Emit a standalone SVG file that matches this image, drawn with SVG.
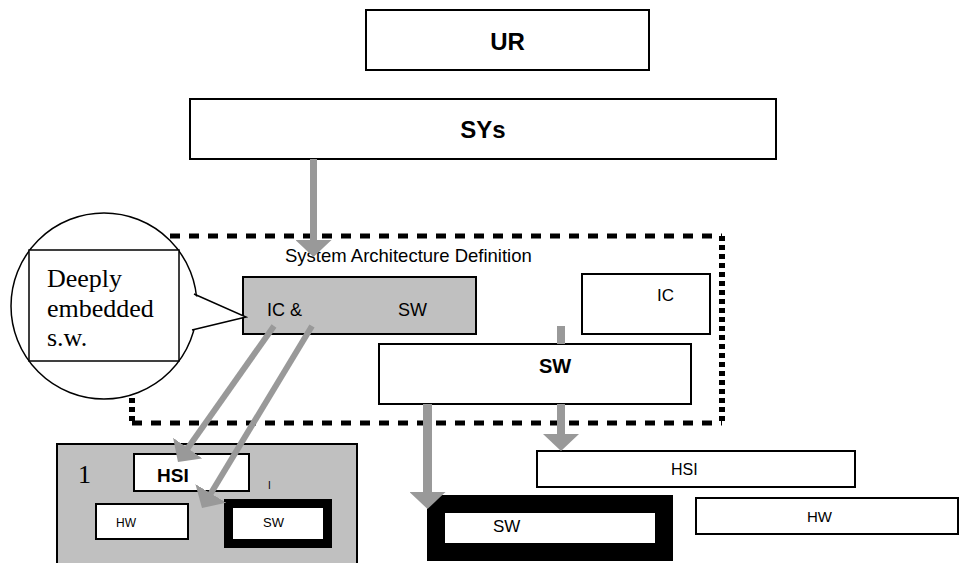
<svg xmlns="http://www.w3.org/2000/svg" width="962" height="563" viewBox="0 0 962 563">
  <style>
    .box { fill: #ffffff; stroke: #000000; stroke-width: 2; }
    .grey { fill: #c0c0c0; stroke: #000000; stroke-width: 2; }
    .thick { fill: #ffffff; stroke: #000000; stroke-width: 18; }
    .sans { font-family: "Liberation Sans", Arial, sans-serif; fill: #000000; }
    .serif { font-family: "Liberation Serif", "Times New Roman", serif; fill: #000000; }
    .b { font-weight: bold; }
    .flow { stroke: #999999; fill: none; marker-end: url(#head); }
    .stub { stroke: #999999; fill: none; }
    .dash-h { stroke: #000000; stroke-width: 5; stroke-dasharray: 10 9; fill: none; }
    .dash-v { stroke: #000000; stroke-width: 6; stroke-dasharray: 5 4; fill: none; }
  </style>
  <defs>
    <marker id="head" markerUnits="userSpaceOnUse" viewBox="0 0 17 36" markerWidth="17" markerHeight="36" refX="5" refY="18" orient="auto">
      <path d="M0,0 L17,18 L0,36 z" fill="#999999"/>
    </marker>
  </defs>

  <!-- top-level requirement boxes -->
  <g id="ur">
    <rect class="box" x="366" y="10" width="283" height="60"/>
    <text class="sans b" x="507.5" y="50" font-size="24" text-anchor="middle">UR</text>
  </g>
  <g id="sys">
    <rect class="box" x="190" y="99" width="586" height="60"/>
    <text class="sans b" x="483" y="138" font-size="24" text-anchor="middle">SYs</text>
  </g>

  <!-- architecture definition frame -->
  <g id="arch-frame">
    <line class="dash-h" x1="132" y1="236" x2="722" y2="236"/>
    <line class="dash-h" x1="132" y1="423" x2="722" y2="423"/>
    <line class="dash-v" x1="132" y1="236" x2="132" y2="423"/>
    <line class="dash-v" x1="722" y1="236" x2="722" y2="423"/>
    <text class="sans" x="285" y="262" font-size="18.5">System Architecture Definition</text>
  </g>

  <g id="ic-sw">
    <rect class="grey" x="243" y="277" width="233" height="57"/>
    <text class="sans" x="267" y="316" font-size="18">IC &amp;</text>
    <text class="sans" x="398" y="316" font-size="18">SW</text>
  </g>

  <g id="ic">
    <rect class="box" x="582" y="274" width="128" height="60"/>
    <text class="sans" x="657" y="301" font-size="17">IC</text>
  </g>

  <!-- callout bubble -->
  <g id="callout">
    <circle cx="104" cy="306" r="93" fill="#ffffff" stroke="#000000" stroke-width="1.5"/>
    <polygon points="188,293 246,317 188,331" fill="#ffffff"/>
    <polyline points="194,294 246,317 192,330" fill="none" stroke="#000000" stroke-width="1.5"/>
    <rect x="29" y="250" width="150" height="111" fill="#ffffff" stroke="#000000" stroke-width="1.5"/>
    <text class="serif" x="47" y="287" font-size="26">Deeply</text>
    <text class="serif" x="47" y="317" font-size="26">embedded</text>
    <text class="serif" x="47" y="346" font-size="26">s.w.</text>
  </g>

  <g id="sw">
    <rect class="box" x="379" y="344" width="312" height="60"/>
    <text class="sans b" x="539" y="373" font-size="20">SW</text>
  </g>

  <!-- component level, left -->
  <g id="component">
    <rect class="grey" x="57" y="444" width="300" height="130"/>
    <text class="serif" x="78" y="483" font-size="26">1</text>
    <text class="sans" x="268" y="489" font-size="10">I</text>
  </g>
  <g id="component-hsi">
    <rect class="box" x="134" y="454" width="115" height="37"/>
    <text class="sans b" x="157" y="482" font-size="19">HSI</text>
  </g>
  <g id="component-hw">
    <rect class="box" x="96" y="504" width="92" height="35"/>
    <text class="sans" x="116" y="527" font-size="12">HW</text>
  </g>
  <g id="component-sw">
    <rect x="224" y="499" width="108" height="49" fill="#000000"/>
    <rect x="233" y="508" width="90" height="31" fill="#ffffff"/>
    <text class="sans" x="263" y="527" font-size="13">SW</text>
  </g>

  <!-- component level, right -->
  <g id="hsi">
    <rect class="box" x="537" y="451" width="318" height="36"/>
    <text class="sans" x="671" y="475" font-size="16">HSI</text>
  </g>
  <g id="hw">
    <rect class="box" x="696" y="498" width="262" height="36"/>
    <text class="sans" x="807" y="522" font-size="15">HW</text>
  </g>
  <g id="sw-unit">
    <rect class="thick" x="436" y="504" width="228" height="48"/>
    <text class="sans" x="493" y="532" font-size="17">SW</text>
  </g>

  <!-- flows -->
  <g id="connectors">
    <line class="flow" x1="313.5" y1="159" x2="313.5" y2="245" stroke-width="7"/>
    <line class="stub" x1="561" y1="326" x2="561" y2="344" stroke-width="8"/>
    <line class="flow" x1="561" y1="404" x2="561" y2="439" stroke-width="8"/>
    <line class="flow" x1="427.5" y1="404" x2="427.5" y2="497" stroke-width="9"/>
    <line class="flow" x1="274" y1="326" x2="184.9" y2="452.2" stroke-width="6"/>
    <line class="flow" x1="312" y1="326" x2="208.2" y2="497.7" stroke-width="6"/>
  </g>
</svg>
